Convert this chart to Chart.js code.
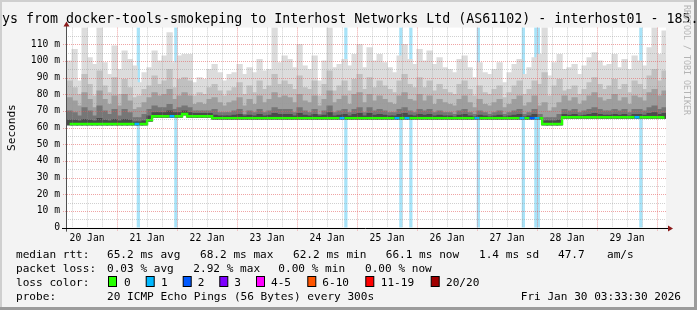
<!DOCTYPE html>
<html><head><meta charset="utf-8">
<script src="https://cdn.jsdelivr.net/npm/chart.js@4/dist/chart.umd.min.js"></script>
<style>html,body{margin:0;padding:0;background:#f3f3f3;}#wrap{width:697px;height:310px;}</style>
</head><body><div id="wrap"><canvas id="c" width="697" height="310"></canvas></div>
<script>
// time axis in hours since 20 Jan 00:00
const startHour = 3.5583;           // 20 Jan 03:33:30
const endHour = 243.5583;           // 30 Jan 03:33:30
const slotStep = 2;                 // hours per smoke column
const firstSlotCenter = 5;

const dayLabels = ['20 Jan','21 Jan','22 Jan','23 Jan','24 Jan','25 Jan','26 Jan','27 Jan','28 Jan','29 Jan'];
const dayLabelHours = [12,36,60,84,108,132,156,180,204,228];

// smoke: top of lightest band (max ping), ms
const maxTop = [
 100,107,88,120,102,98,120,99,92,109,95,106,101,97,87,93,
 96,106,100,103,117,99,103,104,104,87,90,89,95,98,93,88,
 92,93,98,92,96,93,101,94,95,120,99,103,101,96,110,97,
 95,103,88,100,120,96,98,101,97,104,110,96,108,100,104,99,
 96,93,103,110,101,98,107,100,106,98,102,96,95,93,101,103,
 96,90,99,93,92,95,99,87,93,98,101,92,96,102,104,120,
 91,99,104,95,96,98,92,97,102,105,100,97,98,104,96,101,
 95,103,100,97,108,120,104,118
];
const band2 = [
 88,84,80,92,86,79,94,85,81,90,80,89,84,78,79,83,
 85,91,86,88,95,84,89,90,88,79,81,80,84,86,82,79,
 82,84,87,80,85,81,88,83,85,92,86,88,86,83,91,84,
 83,88,79,86,94,82,85,88,82,89,92,83,90,84,88,85,
 83,81,88,92,86,84,90,84,88,82,86,83,81,80,86,88,
 83,79,85,81,80,83,85,78,81,85,88,80,83,88,86,93,
 79,85,89,82,83,85,80,83,87,90,86,83,85,89,83,86,
 81,88,86,83,91,95,88,94
];
const band3 = [
 78,76,73,81,77,72,82,77,74,79,73,80,76,71,72,75,
 78,81,79,80,83,77,79,81,79,74,75,74,77,78,75,73,
 75,76,78,73,77,74,79,75,77,81,78,79,78,75,80,76,
 75,79,73,77,82,75,77,79,74,80,81,75,80,76,79,77,
 75,74,79,81,77,76,80,76,79,74,77,75,74,73,77,79,
 75,72,77,74,73,75,77,72,74,77,79,73,75,79,73,75,
 70,72,75,79,76,78,74,76,79,81,78,76,77,80,76,78,
 74,79,78,76,81,83,79,82
];
const band4 = [
 70,69,67,72,70,67,73,70,68,71,67,71,69,66,66,68,
 71,73,72,72,74,71,72,73,72,70,70,70,70,71,69,69,
 69,70,71,68,70,69,71,69,70,72,71,71,71,69,72,70,
 69,71,68,70,73,69,70,71,69,71,72,69,72,70,71,70,
 69,69,71,72,70,69,71,70,71,69,70,69,69,68,70,71,
 69,68,70,69,68,69,70,68,69,70,71,68,69,71,68,66,
 66,66,68,71,70,71,69,70,71,72,71,70,70,71,70,71,
 69,71,71,70,72,73,71,72
];
const band5 = [
 64.5,64.5,64,65,64.5,64,65.5,64.5,64,65,64,65,64.5,63.5,63.5,64,
 67,69,69,69,70,69,69,70,69,68.5,68.5,68.5,68.5,67.5,67,67,
 67,67.5,68,67,67.5,67,68,67,67.5,68.5,68,68,68,67,68.5,67.5,
 67,68,67,67.5,69,67,67.5,68,67,68,68.5,67,68.5,67.5,68,67.5,
 67,67,68,68.5,67.5,67,68,67.5,68,67,67.5,67,67,66.5,67.5,68,
 67,66.5,67.5,67,66.5,67,67.5,66.5,67,67.5,68,66.5,67,68,66,64,
 64,64,64.5,68,67.5,68,67,67.5,68,68.5,68,67.5,67.5,68,67.5,68,
 67,68,68,67.5,68.5,69,68,68.5
];
const median = [
 62.2,62.2,62.2,62.2,62.2,62.2,62.2,62.2,62.2,62.2,62.2,62.2,62.2,62.2,62.2,62.2,
 64.5,66.8,66.8,66.8,66.8,66.8,66.8,68.2,66.8,66.8,66.8,66.8,66.8,65.7,65.7,65.7,
 65.7,65.7,65.7,65.7,65.7,65.7,65.7,65.7,65.7,65.7,65.7,65.7,65.7,65.7,65.7,65.7,
 65.7,65.7,65.7,65.7,65.7,65.7,65.7,65.7,65.7,65.7,65.7,65.7,65.7,65.7,65.7,65.7,
 65.7,65.7,65.7,65.7,65.7,65.7,65.7,65.7,65.7,65.7,65.7,65.7,65.7,65.7,65.7,65.7,
 65.7,65.7,65.7,65.7,65.7,65.7,65.7,65.7,65.7,65.7,65.7,65.7,65.7,65.7,65.7,62.2,
 62.2,62.2,62.2,66.2,66.2,66.2,66.2,66.2,66.2,66.2,66.2,66.2,66.2,66.2,66.2,66.2,
 66.2,66.2,66.2,66.2,66.2,66.2,66.2,66.1
];
// loss events (hour centres) and lost pings
const lossHours = [32.5,47.5,115.5,137.5,141.5,168.5,186.5,191.5,192.5,233.5];
const lossPings = [1,1,1,1,1,1,1,2,1,1];

const lossColors = ['#26ff00','#00b8ff','#0059ff','#7e00ff','#ff00ff','#ff5500','#ff0000','#a00000'];
const lossLabels = ['0','1','2','3','4-5','6-10','11-19','20/20'];

const slotHours = maxTop.map((_, i) => firstSlotCenter + i * slotStep);
const mono = '"DejaVu Sans Mono", monospace';

function slotColor(i){
  const h = slotHours[i];
  for (let k=0;k<lossHours.length;k++){ if (Math.abs(lossHours[k]-h) <= 1) return lossColors[Math.min(lossPings[k],7)]; }
  return lossColors[0];
}

function bandDataset(tops, color, order){
  return {type:'bar', data: tops.map((t,i)=>({x:slotHours[i], y:[median[i]-0.6, t]})),
    backgroundColor: color, borderWidth:0, barThickness:5.6, grouped:false, order};
}

const framePlugin = {
  id:'frame',
  beforeDraw(chart){
    const ctx = chart.ctx, a = chart.chartArea;
    ctx.save();
    ctx.fillStyle = '#f3f3f3'; ctx.fillRect(0,0,697,310);
    ctx.fillStyle = '#cfcfcf'; ctx.fillRect(0,0,697,2); ctx.fillRect(0,0,2,310);
    ctx.fillStyle = '#9b9b9b'; ctx.fillRect(0,307,697,3); ctx.fillRect(694,0,3,310);
    ctx.fillStyle = '#ffffff'; ctx.fillRect(a.left, a.top, a.right-a.left, a.bottom-a.top);
    ctx.restore();
  },
  afterDatasetsDraw(chart){
    const ctx = chart.ctx, a = chart.chartArea, xs = chart.scales.x, ys = chart.scales.y;
    ctx.save();
    ctx.lineWidth = 1; ctx.setLineDash([1,1]);
    for (let v = 5; v < 120; v += 5){
      const y = Math.round(ys.getPixelForValue(v)) + 0.5;
      ctx.strokeStyle = v % 10 === 0 ? 'rgba(225,90,90,0.55)' : 'rgba(150,150,150,0.45)';
      ctx.beginPath(); ctx.moveTo(v%10===0 ? a.left-3 : a.left, y); ctx.lineTo(a.right, y); ctx.stroke();
    }
    for (let h = 6; h < endHour; h += 6){
      if (h < startHour) continue;
      const x = Math.round(xs.getPixelForValue(h)) + 0.5;
      ctx.strokeStyle = h % 24 === 0 ? 'rgba(225,90,90,0.55)' : 'rgba(150,150,150,0.45)';
      ctx.beginPath(); ctx.moveTo(x, a.top); ctx.lineTo(x, h%24===0 ? a.bottom+3 : a.bottom); ctx.stroke();
    }
    ctx.setLineDash([]);
    ctx.restore();
  },
  afterDraw(chart){
    const ctx = chart.ctx, a = chart.chartArea;
    ctx.save();
    const ax = Math.round(a.left)+0.5, ay = Math.round(a.bottom)+0.5;
    ctx.strokeStyle = '#505050'; ctx.lineWidth = 1;
    ctx.beginPath(); ctx.moveTo(ax, a.bottom+4); ctx.lineTo(ax, a.top-3); ctx.stroke();
    ctx.strokeStyle = '#000000';
    ctx.beginPath(); ctx.moveTo(a.left-4, ay); ctx.lineTo(a.right+3, ay); ctx.stroke();
    ctx.fillStyle = '#8b1a1a';
    ctx.beginPath(); ctx.moveTo(ax-3, a.top-1); ctx.lineTo(ax+3, a.top-1); ctx.lineTo(ax, a.top-6); ctx.closePath(); ctx.fill();
    ctx.beginPath(); ctx.moveTo(a.right+2, ay-3); ctx.lineTo(a.right+2, ay+3); ctx.lineTo(a.right+7, ay); ctx.closePath(); ctx.fill();

    ctx.fillStyle = '#000';
    ctx.textBaseline = 'alphabetic'; ctx.textAlign = 'left';
    ctx.font = '13.3px ' + mono;
    ctx.fillText('ys from docker-tools-smokeping to Interhost Networks Ltd (AS61102) - interhost01 - 185.', 2, 23);

    ctx.save(); ctx.translate(14.5, a.top + (a.bottom-a.top)/2); ctx.rotate(-Math.PI/2);
    ctx.font = '11.1px ' + mono; ctx.textAlign = 'center'; ctx.fillText('Seconds', 0, 0);
    ctx.restore();

    ctx.save(); ctx.translate(683.5, 5); ctx.rotate(Math.PI/2);
    ctx.font = '8.3px ' + mono; ctx.fillStyle = '#b4b4b4'; ctx.textAlign = 'left'; ctx.fillText('RRDTOOL / TOBI OETIKER', 0, 0);
    ctx.restore();

    ctx.font = '11.1px ' + mono; ctx.fillStyle = '#000';
    const L = [
      [[16,'median rtt:'],[107,'65.2 ms avg'],[200,'68.2 ms max'],[293,'62.2 ms min'],[385.7,'66.1 ms now'],[479,'1.4 ms sd'],[558,'47.7'],[607,'am/s']],
      [[16,'packet loss:'],[107,'0.03 % avg'],[193.3,'2.92 % max'],[278.3,'0.00 % min'],[365,'0.00 % now']],
      [[16,'loss color:']],
      [[16,'probe:'],[107,'20 ICMP Echo Pings (56 Bytes) every 300s']]
    ];
    L.forEach((line, r) => line.forEach(([x,t]) => ctx.fillText(t, x, 257.7 + r*14)));
    ctx.textAlign = 'right'; ctx.fillText('Fri Jan 30 03:33:30 2026', 681, 299.7);
    ctx.textAlign = 'left';
    const boxX = [108,145.7,182.7,219.3,256,307.3,365.3,430.7];
    const labX = [124,161,197.7,234.3,271,322.3,380.7,446];
    lossColors.forEach((c,i) => {
      ctx.fillStyle = c; ctx.fillRect(boxX[i]+0.5, 276.5, 8, 10);
      ctx.strokeStyle = '#000'; ctx.lineWidth = 1; ctx.strokeRect(boxX[i]+0.5, 276.5, 8, 10);
      ctx.fillStyle = '#000'; ctx.fillText(lossLabels[i], labX[i], 285.7);
    });
    ctx.restore();
  }
};

new Chart(document.getElementById('c'), {
  data: {
    datasets: [
      {type:'line', data: median.map((m,i)=>({x:slotHours[i], y:m})), stepped:'middle',
        borderColor:'#26ff00', borderWidth:2.4, pointRadius:0, order:0,
        segment:{borderColor: ctx => slotColor(ctx.p1DataIndex)}},
      bandDataset(band5, '#4a4a4a', 1),
      bandDataset(band4, '#767676', 2),
      bandDataset(band3, '#9e9e9e', 3),
      bandDataset(band2, '#c0c0c0', 4),
      bandDataset(maxTop, '#dcdcdc', 5),
      {type:'bar', data: lossHours.map(h=>({x:h, y:[0,120]})), backgroundColor:'#a8e3f8',
        borderWidth:0, barThickness:2.6, grouped:false, order:6}
    ]
  },
  options: {
    responsive:false, animation:false, devicePixelRatio:1,
    layout:{padding:{left:0, top:27.6, right:31, bottom:62.4}},
    plugins:{legend:{display:false}, title:{display:false}, tooltip:{enabled:false}},
    scales:{
      x:{type:'linear', min:startHour, max:endHour, offset:false,
        grid:{display:false, drawTicks:false}, border:{display:false},
        afterBuildTicks: s => { s.ticks = dayLabelHours.map(v=>({value:v})); },
        afterFit: s => { s.height = 20; },
        ticks:{autoSkip:false, maxRotation:0, padding:5, color:'#000', font:{family:mono, size:9.7},
          callback:(v,i)=>dayLabels[i]}},
      y:{min:0, max:120,
        grid:{display:false, drawTicks:false}, border:{display:false},
        afterFit: s => { s.width = 66; },
        ticks:{stepSize:10, padding:6, color:'#000', font:{family:mono, size:9.7},
          callback:v => v===0 ? '0' : (v>=120 ? '' : v+' m')}}
    }
  },
  plugins:[framePlugin]
});
</script></body></html>
